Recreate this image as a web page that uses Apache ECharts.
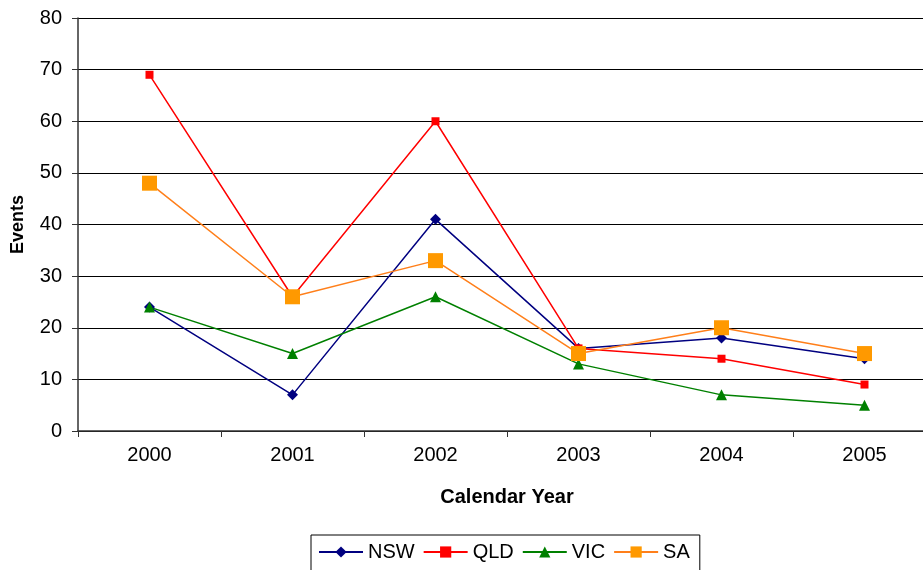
<!DOCTYPE html>
<html>
<head>
<meta charset="utf-8">
<script src="https://cdn.jsdelivr.net/npm/echarts@6/dist/echarts.min.js"></script>
<style>
  html, body { margin: 0; padding: 0; background: #fff; }
  #chart { width: 923px; height: 570px; }
</style>
</head>
<body>
<div id="chart"></div>
<script>
// Annual event counts by state
const years = ['2000', '2001', '2002', '2003', '2004', '2005'];
const nsw = [24, 7, 41, 16, 18, 14];
const qld = [69, 26, 60, 16, 14, 9];
const vic = [24, 15, 26, 13, 7, 5];
const sa  = [48, 26, 33, 15, 20, 15];

const font = 'Liberation Sans, Arial, sans-serif';

function line(name, data, color, symbol, size, lineColor) {
  return {
    name, type: 'line', data,
    symbol, symbolSize: size,
    lineStyle: { color: lineColor || color, width: 1.5 },
    itemStyle: { color },
    emphasis: { disabled: true },
    animation: false
  };
}

const chart = echarts.init(document.getElementById('chart'), null, { renderer: 'canvas' });
chart.setOption({
  backgroundColor: '#ffffff',
  textStyle: { fontFamily: font },
  grid: { left: 78, top: 18, width: 858, height: 413, containLabel: false, outerBoundsMode: 'none' },
  xAxis: {
    type: 'category', data: years, boundaryGap: true,
    axisLine: { lineStyle: { color: '#333', width: 1.5 } },
    axisTick: { show: true, length: 6, lineStyle: { color: '#333' } },
    axisLabel: { color: '#000', fontSize: 20, margin: 14, fontFamily: font },
    name: 'Calendar Year', nameLocation: 'middle', nameGap: 56,
    nameTextStyle: { color: '#000', fontSize: 20, fontWeight: 'bold', fontFamily: font }
  },
  yAxis: {
    type: 'value', min: 0, max: 80, interval: 10,
    axisLine: { show: true, lineStyle: { color: '#333', width: 1.5 } },
    axisTick: { show: true, length: 6, lineStyle: { color: '#333' } },
    axisLabel: { color: '#000', fontSize: 20, margin: 16, fontFamily: font },
    splitLine: { lineStyle: { color: '#000', width: 1 } },
    name: 'Events', nameLocation: 'middle', nameGap: 51, nameRotate: 90,
    nameTextStyle: { color: '#000', fontSize: 18, fontWeight: 'bold', fontFamily: font }
  },
  legend: {
    left: 311, top: 535,
    borderColor: '#000', borderWidth: 1,
    padding: [7, 10, 12, 7],
    itemGap: 8, itemWidth: 44, itemHeight: 14,
    textStyle: { color: '#000', fontSize: 20, fontFamily: font },
    data: ['NSW', 'QLD', 'VIC', 'SA']
  },
  series: [
    line('NSW', nsw, '#000080', 'diamond', 11),
    line('QLD', qld, '#ff0000', 'rect', 8),
    line('VIC', vic, '#008000', 'triangle', 11),
    line('SA', sa, '#ff9900', 'rect', 15, '#ff7f1a')
  ]
});
</script>
</body>
</html>
